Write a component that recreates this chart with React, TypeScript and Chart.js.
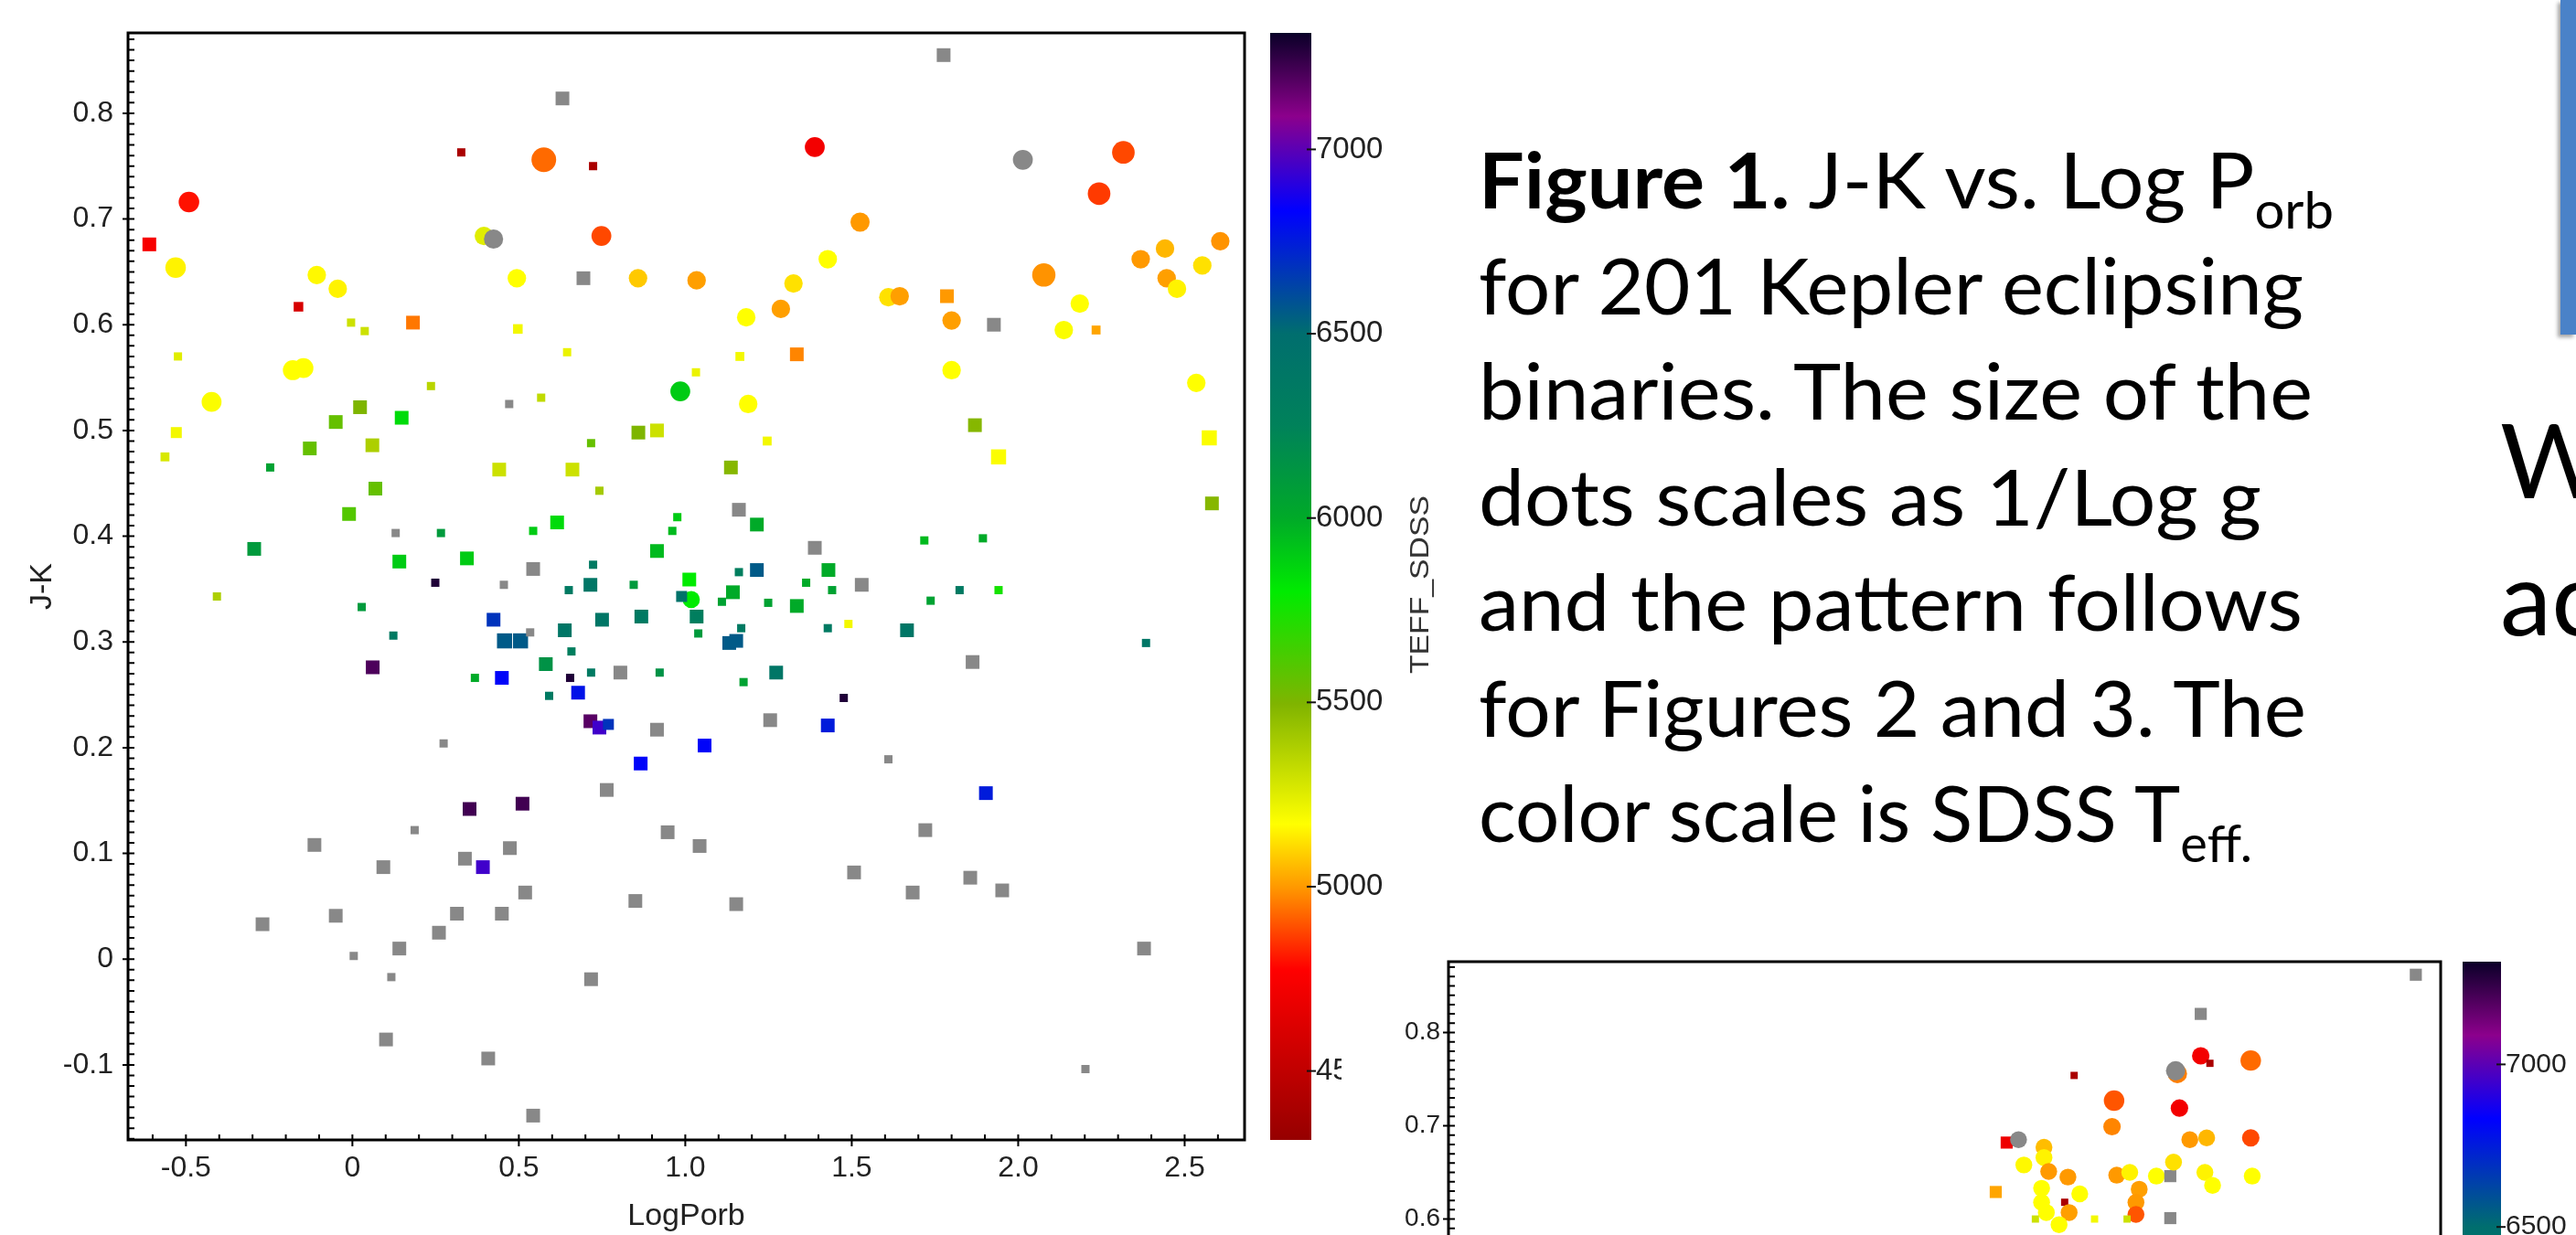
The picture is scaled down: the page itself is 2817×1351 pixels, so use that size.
import React, { useEffect, useRef } from "react";
import { Chart, registerables } from "chart.js";

Chart.register(...registerables);

// ---------------- Figure 1 : J-K vs LogPorb (201 Kepler EBs) ----------------
const fig1LogPorb = [
  0.631, 1.776, 0.327, 0.575, 0.723, 1.389, 2.014, 2.316, 2.243, -0.491,
  -0.610, -0.531, 0.395, 0.424, 0.748, -0.107, -0.044, -0.162, -0.004, 0.037,
  0.182, 0.494, 0.694, 0.858, 1.034, 0.497, -0.524, 0.645, -0.179, -0.147,
  0.236, -0.423, 0.985, 0.471, 0.567, 0.023, -0.050, 0.148, -0.529, -0.563,
  -0.128, 0.060, 0.859, 0.915, 0.717, -0.247, 0.441, 0.661, 0.069, 0.742,
  -0.010, 0.130, 0.266, 0.615, 0.543, 0.976, 0.961, -0.295, 0.141, 0.344,
  0.543, 0.915, 0.723, 0.249, 0.455, 0.715, 0.650, 0.845, 1.012, 1.525,
  1.428, 1.325, 1.287, 1.183, 1.610, 1.644, 1.786, 1.800, 1.927, 2.077,
  2.185, 2.137, 2.234, 2.368, 2.441, 2.446, 2.477, 2.553, 2.607, 1.164,
  1.032, 1.335, 1.800, 2.535, 1.189, 1.246, 1.870, 2.574, 1.941, 1.137,
  2.582, 1.161, 1.215, 1.389, 1.718, 1.894, 1.215, 1.430, 1.363, 1.530,
  1.161, 1.143, 1.018, 1.110, 1.249, 1.335, 1.441, 1.737, 1.824, 1.941,
  1.034, 1.039, 1.168, 1.132, 1.153, 1.428, 1.490, 1.666, 2.384, 1.863,
  1.273, 1.175, 1.476, 1.255, 1.428, 1.058, 1.610, 1.903, 1.721, 1.043,
  1.507, 1.856, 1.683, 1.952, 1.153, 2.378, 2.202, 0.989, -0.407, 0.028,
  0.424, 0.457, 0.505, 0.534, 0.123, 0.638, 0.750, 0.868, 0.658, 0.061,
  0.581, 0.368, 0.449, 0.654, 0.717, 0.805, 0.923, 0.591, 0.678, 0.715,
  0.742, 0.769, 0.915, 0.274, 0.866, 0.764, 0.352, 0.511, 0.947, 0.187,
  -0.114, 0.473, 0.093, 0.338, 0.392, 0.519, 0.850, 0.314, 0.449, -0.050,
  -0.270, 0.260, 0.141, 0.004, 0.117, 0.717, 0.101, 0.408, 0.543,
];
const fig1JK = [
  0.814, 0.855, 0.763, 0.756, 0.750, 0.768, 0.756, 0.763, 0.724, 0.716,
  0.676, 0.654, 0.684, 0.681, 0.684, 0.647, 0.634, 0.617, 0.602, 0.594,
  0.602, 0.644, 0.644, 0.644, 0.642, 0.596, 0.570, 0.574, 0.557, 0.559,
  0.542, 0.527, 0.537, 0.525, 0.531, 0.522, 0.508, 0.512, 0.498, 0.475,
  0.483, 0.486, 0.498, 0.500, 0.488, 0.465, 0.463, 0.463, 0.445, 0.443,
  0.421, 0.403, 0.403, 0.413, 0.405, 0.418, 0.405, 0.388, 0.376, 0.379,
  0.369, 0.386, 0.373, 0.356, 0.354, 0.354, 0.349, 0.354, 0.359, 0.697,
  0.662, 0.639, 0.615, 0.607, 0.626, 0.627, 0.627, 0.604, 0.600, 0.647,
  0.620, 0.595, 0.595, 0.662, 0.672, 0.644, 0.634, 0.656, 0.679, 0.570,
  0.555, 0.572, 0.557, 0.545, 0.525, 0.490, 0.505, 0.493, 0.475, 0.465,
  0.431, 0.425, 0.411, 0.389, 0.396, 0.398, 0.368, 0.368, 0.356, 0.354,
  0.366, 0.347, 0.340, 0.338, 0.337, 0.334, 0.349, 0.339, 0.349, 0.349,
  0.324, 0.308, 0.313, 0.299, 0.301, 0.313, 0.317, 0.311, 0.299, 0.281,
  0.271, 0.262, 0.247, 0.226, 0.221, 0.202, 0.189, 0.157, 0.122, 0.107,
  0.082, 0.077, 0.063, 0.065, 0.052, 0.010, -0.104, 0.343, 0.343, 0.333,
  0.321, 0.301, 0.301, 0.309, 0.306, 0.311, 0.321, 0.324, 0.291, 0.276,
  0.279, 0.266, 0.266, 0.266, 0.271, 0.271, 0.271, 0.249, 0.252, 0.225,
  0.219, 0.222, 0.217, 0.204, 0.185, 0.160, 0.142, 0.147, 0.120, 0.122,
  0.108, 0.105, 0.087, 0.095, 0.087, 0.063, 0.055, 0.043, 0.043, 0.041,
  0.033, 0.025, 0.010, 0.003, -0.017, -0.019, -0.076, -0.094, -0.148,
];
// SDSS Teff (null = no Teff, drawn grey)
const fig1Teff = [
  null, null, 4400, 4930, 4400, 4720, null, 4880, 4860, 4800,
  4740, 5150, 5250, null, 4880, 5160, 5150, 4600, 5300, 5300,
  4950, 5170, null, 5080, 5010, 5200, 5250, 5220, 5170, 5170,
  5350, 5180, 5900, null, 5330, 5500, 5560, 5850, 5200, 5270,
  5560, 5380, 5500, 5300, 5560, 6050, 5300, 5300, 5560, 5400,
  5600, null, 6100, 5850, 5900, 5900, 5950, 6100, 5900, 5900,
  null, 5950, 6350, 7280, null, 6400, 6350, 6100, 5800, 5000,
  5170, 5120, 5010, 5170, 5120, 5010, 5000, 5010, null, 4990,
  5170, 5180, 5020, 5000, 5050, 5010, 5150, 5120, 4990, 5200,
  5220, 4970, 5170, 5170, 5170, 5200, 5480, 5180, 5180, 5480,
  5480, null, 6000, null, 5950, 6000, 6560, 6000, 6000, null,
  6300, 6000, 5800, 6050, 6050, 6000, 6050, 6050, 6350, 5750,
  6300, 6100, 6350, 6560, 6560, 6350, 5200, 6400, 6400, null,
  6400, 6050, 7280, null, 6750, 6820, null, 6750, null, null,
  null, null, null, null, null, null, null, 6450, 5380, 6100,
  6680, 6560, 6560, null, 6350, 6400, 6400, 6350, 6300, 7200,
  6150, 6000, 6820, 7280, 6350, null, 6150, 6350, 6780, 7180,
  6950, 6680, null, null, 6820, null, 7220, 7220, null, null,
  null, null, null, null, 6950, null, null, null, null, null,
  null, null, null, null, null, null, null, null, null,
];
// log g (dot size scales as 1/log g)
const fig1LogG = [
  4.3, 4.3, 4.7, 3.5, 4.7, 3.85, 3.85, 3.65, 3.65, 3.8,
  4.3, 3.8, 3.95, 3.9, 3.85, 3.95, 3.95, 4.6, 4.7, 4.7,
  4.3, 3.95, 4.3, 3.95, 3.95, 4.6, 4.7, 4.7, 3.85, 3.85,
  4.7, 3.85, 3.85, 4.7, 4.7, 4.3, 4.3, 4.3, 4.5, 4.65,
  4.3, 4.3, 4.3, 4.3, 4.7, 4.7, 4.3, 4.3, 4.3, 4.7,
  4.3, 4.7, 4.7, 4.3, 4.7, 4.7, 4.7, 4.3, 4.3, 4.3,
  4.3, 4.3, 4.7, 4.7, 4.7, 4.3, 4.7, 4.7, 4.3, 3.9,
  3.95, 3.95, 3.95, 3.95, 3.95, 3.95, 4.3, 3.95, 4.3, 3.6,
  3.95, 3.95, 4.65, 3.95, 3.95, 3.95, 3.95, 3.95, 3.95, 4.65,
  4.7, 4.3, 3.95, 3.95, 3.95, 4.65, 4.3, 4.2, 4.2, 4.3,
  4.3, 4.3, 4.3, 4.3, 4.7, 4.7, 4.3, 4.3, 4.7, 4.3,
  4.7, 4.3, 4.05, 4.7, 4.7, 4.3, 4.7, 4.7, 4.7, 4.7,
  4.3, 4.7, 4.7, 4.3, 4.3, 4.7, 4.7, 4.3, 4.7, 4.3,
  4.3, 4.7, 4.7, 4.3, 4.3, 4.3, 4.7, 4.3, 4.3, 4.3,
  4.3, 4.3, 4.3, 4.3, 4.3, 4.3, 4.7, 4.5, 4.7, 4.7,
  4.3, 4.2, 4.2, 4.7, 4.7, 4.3, 4.3, 4.3, 4.7, 4.3,
  4.3, 4.7, 4.3, 4.7, 4.7, 4.3, 4.7, 4.7, 4.3, 4.3,
  4.3, 4.5, 4.3, 4.7, 4.3, 4.3, 4.3, 4.3, 4.3, 4.7,
  4.3, 4.3, 4.3, 4.3, 4.3, 4.3, 4.3, 4.3, 4.3, 4.3,
  4.3, 4.3, 4.3, 4.7, 4.7, 4.3, 4.3, 4.3, 4.3,
];

// ---------------- Figure 2 (only its top part is visible) ----------------
const fig2X = [
  2.596, 1.869, 1.869, 1.900, 2.038, 1.790, 1.784, 1.441, 1.576, 1.797,
  1.569, 1.213, 1.253, 1.832, 1.889, 2.038, 1.339, 1.271, 1.339, 1.355,
  1.420, 1.585, 1.629, 1.719, 1.766, 1.777, 1.883, 1.909, 2.043, 1.331,
  1.460, 1.661, 1.650, 1.650, 1.176, 1.331, 1.409, 1.347, 1.424, 1.390,
  1.310, 1.510, 1.620, 1.766,
];
const fig2JK = [
  0.862, 0.820, 0.775, 0.767, 0.770, 0.756, 0.759, 0.754, 0.727, 0.719,
  0.699, 0.682, 0.685, 0.685, 0.687, 0.687, 0.677, 0.658, 0.666, 0.651,
  0.645, 0.647, 0.650, 0.646, 0.646, 0.661, 0.650, 0.636, 0.646, 0.633,
  0.627, 0.632, 0.618, 0.605, 0.629, 0.618, 0.618, 0.607, 0.607, 0.594,
  0.600, 0.600, 0.600, 0.601,
];
const fig2Teff = [
  null, null, 4720, 4400, 4930, 4960, null, 4400, 4900, 4720,
  4970, 4700, null, 5000, 5050, 4880, 5060, 5160, 5150, 5000,
  5000, 5000, 5150, 5170, null, 5120, 5150, 5170, 5170, 5170,
  5170, 5010, 5000, 4900, 5020, 5170, 4400, 5170, 5010, 5170,
  5300, 5200, 5300, null,
];
const fig2LogG = [
  4.3, 4.3, 3.85, 4.7, 3.6, 3.7, 3.7, 4.7, 3.6, 3.85,
  3.85, 4.3, 3.9, 3.9, 3.9, 3.85, 3.9, 3.9, 3.9, 3.9,
  3.9, 3.9, 3.9, 3.9, 4.3, 3.9, 3.9, 3.9, 3.9, 3.9,
  3.9, 3.9, 3.9, 3.9, 4.3, 3.9, 4.7, 3.9, 3.9, 3.9,
  4.7, 4.7, 4.7, 4.3,
];

// ---------------- axes / colour scale ----------------
const xRange = [-0.674, 2.68];
const yRange = [-0.171, 0.876];
const teffRange = [4313, 7316];
const colorbarTicks = [4500, 5000, 5500, 6000, 6500, 7000];
const teffStops = [4313, 4775, 4995, 5170, 5495, 5800, 6000, 6250, 6500, 6833, 7090, 7316];
const rgbStops = [
  [150, 0, 0], [255, 0, 0], [255, 150, 0], [255, 255, 0], [128, 180, 0], [0, 235, 0],
  [0, 170, 40], [0, 130, 90], [0, 110, 110], [0, 0, 255], [140, 0, 140], [10, 0, 40],
];

const rgb = (c: number[]) => `rgb(${c[0]},${c[1]},${c[2]})`;

function teffColor(t: number | null): string {
  if (t === null || t === undefined) return "#888888";
  const v = Math.min(Math.max(t, teffStops[0]), teffStops[teffStops.length - 1]);
  for (let i = 0; i < teffStops.length - 1; i++) {
    if (v <= teffStops[i + 1]) {
      const f = (v - teffStops[i]) / (teffStops[i + 1] - teffStops[i]);
      const a = rgbStops[i], b = rgbStops[i + 1];
      return rgb([0, 1, 2].map((k) => Math.round(a[k] + (b[k] - a[k]) * f)));
    }
  }
  return rgb(rgbStops[rgbStops.length - 1]);
}

// visual diameter of a dot, growing as log g decreases
const dotSize = (g: number) => 9 + (4.7 - g) * 15;
const fmt = (v: any) => (Math.abs(Number(v)) < 1e-9 ? "0" : Number(v).toFixed(1));
const FONT = '"Liberation Sans", Arial, sans-serif';

function decorPlugin(cb: { gap: number; width: number; fontSize: number }) {
  return {
    id: "decor",
    beforeDraw(chart: any) {
      const { ctx, width, height } = chart;
      ctx.save();
      ctx.fillStyle = "#fff";
      ctx.fillRect(0, 0, width, height);
      ctx.restore();
    },
    afterDraw(chart: any) {
      const { ctx, chartArea: a, scales } = chart;
      const x = scales.x, y = scales.y;
      ctx.save();
      // colour bar
      const cbL = a.right + cb.gap;
      const cbR = cbL + cb.width;
      const grad = ctx.createLinearGradient(0, a.bottom, 0, a.top);
      teffStops.forEach((t, i) =>
        grad.addColorStop((t - teffRange[0]) / (teffRange[1] - teffRange[0]), rgb(rgbStops[i]))
      );
      ctx.fillStyle = grad;
      ctx.fillRect(cbL, a.top, cb.width, a.bottom - a.top);
      ctx.strokeStyle = "#111";
      ctx.lineWidth = 2;
      ctx.font = `${cb.fontSize}px ${FONT}`;
      ctx.fillStyle = "#222";
      ctx.textAlign = "left";
      ctx.textBaseline = "middle";
      colorbarTicks.forEach((t) => {
        const py = a.bottom - ((t - teffRange[0]) / (teffRange[1] - teffRange[0])) * (a.bottom - a.top);
        ctx.beginPath();
        ctx.moveTo(cbR - 5, py);
        ctx.lineTo(cbR + 5, py);
        ctx.stroke();
        ctx.fillText(String(t), cbR + 5, py);
      });
      // frame
      ctx.strokeStyle = "#000";
      ctx.lineWidth = 3;
      ctx.strokeRect(a.left, a.top, a.right - a.left, a.bottom - a.top);
      // ticks
      ctx.lineWidth = 2;
      ctx.beginPath();
      for (let k = Math.ceil(xRange[0] * 10); k <= Math.floor(xRange[1] * 10); k++) {
        const px = x.getPixelForValue(k / 10);
        ctx.moveTo(px, a.bottom - 6);
        ctx.lineTo(px, k % 5 === 0 ? a.bottom + 7 : a.bottom);
      }
      for (let k = Math.ceil(yRange[0] * 100); k <= Math.floor(yRange[1] * 100); k++) {
        const py = y.getPixelForValue(k / 100);
        ctx.moveTo(k % 10 === 0 ? a.left - 6 : a.left, py);
        ctx.lineTo(a.left + 7, py);
      }
      ctx.stroke();
      ctx.restore();
    },
  };
}

type PanelProps = {
  left: number; top: number; width: number; height: number;
  area: { left: number; top: number; right: number; bottom: number };
  xs: number[]; ys: number[]; ts: (number | null)[]; gs: number[];
  markerScale: number; tickFont: number; yPad: number; showTitles: boolean;
  cb: { gap: number; width: number; fontSize: number };
};

function ScatterPanel(p: PanelProps) {
  const ref = useRef<HTMLCanvasElement>(null);
  useEffect(() => {
    const sizes = p.gs.map((g) => dotSize(g) * p.markerScale);
    const chart = new Chart(ref.current as HTMLCanvasElement, {
      type: "scatter",
      data: {
        datasets: [
          {
            data: p.xs.map((x, i) => ({ x, y: p.ys[i] })),
            backgroundColor: p.ts.map(teffColor),
            borderWidth: 0,
            pointBorderWidth: 0,
            pointStyle: sizes.map((s) => (s < 17 * p.markerScale ? "rect" : "circle")),
            pointRadius: sizes.map((s) => (s < 17 * p.markerScale ? s / Math.SQRT2 : s / 2)),
          } as any,
        ],
      },
      options: {
        responsive: false,
        animation: false,
        devicePixelRatio: 1,
        events: [],
        layout: { padding: { left: 0, top: p.area.top, right: p.width - p.area.right, bottom: 0 } },
        plugins: { legend: { display: false }, tooltip: { enabled: false } },
        scales: {
          x: {
            type: "linear",
            min: xRange[0],
            max: xRange[1],
            grid: { display: false, drawTicks: false },
            border: { display: false },
            ticks: {
              stepSize: 0.5, includeBounds: false, autoSkip: false, maxRotation: 0,
              padding: 12, color: "#222", font: { family: FONT, size: p.tickFont }, callback: fmt,
            },
            title: {
              display: p.showTitles, text: "LogPorb", color: "#222",
              font: { family: FONT, size: 34 }, padding: { top: 0, bottom: 0 },
            },
            afterFit: (s: any) => {
              s.height = p.height - p.area.bottom;
              s.paddingLeft = 0; s.paddingRight = 0;
            },
          },
          y: {
            type: "linear",
            min: yRange[0],
            max: yRange[1],
            grid: { display: false, drawTicks: false },
            border: { display: false },
            ticks: {
              stepSize: 0.1, includeBounds: false, autoSkip: false,
              padding: p.yPad, color: "#222", font: { family: FONT, size: p.tickFont }, callback: fmt,
            },
            title: {
              display: p.showTitles, text: "J-K", color: "#222",
              font: { family: FONT, size: 34 }, padding: { top: 26, bottom: 0 },
            },
            afterFit: (s: any) => {
              s.width = p.area.left;
              s.paddingTop = 0; s.paddingBottom = 0;
            },
          },
        } as any,
      },
      plugins: [decorPlugin(p.cb)],
    } as any);
    return () => chart.destroy();
  }, []);
  return (
    <canvas
      ref={ref}
      width={p.width}
      height={p.height}
      style={{ position: "absolute", left: p.left, top: p.top, width: p.width, height: p.height }}
    />
  );
}

export default function App() {
  const cap = { fontFamily: "Lato, 'Open Sans', sans-serif", fill: "#000" };
  return (
    <div
      style={{
        position: "fixed", left: 0, top: 0, width: 2817, height: 1351,
        overflow: "hidden", background: "#fff",
      }}
    >
      <ScatterPanel
        left={0} top={0} width={1620} height={1351}
        area={{ left: 140, top: 36, right: 1361, bottom: 1247 }}
        xs={fig1LogPorb} ys={fig1JK} ts={fig1Teff} gs={fig1LogG}
        markerScale={1} tickFont={32} yPad={16} showTitles={true}
        cb={{ gap: 28, width: 45, fontSize: 33 }}
      />
      <svg
        width={2817} height={1351}
        style={{ position: "absolute", left: 0, top: 0, pointerEvents: "none" }}
      >
        <text
          x={1562} y={737} fontSize={30} fill="#333"
          fontFamily='"Liberation Sans", Arial, sans-serif'
          transform="rotate(-90 1562 737)" textLength={195} lengthAdjust="spacingAndGlyphs"
        >
          TEFF_SDSS
        </text>
        <g {...cap} fontSize={85} style={{ whiteSpace: "pre" }}>
          <text x={1617} y={228} textLength={935} lengthAdjust="spacingAndGlyphs">
            <tspan fontWeight={700}>Figure 1.</tspan>
            <tspan>{"  J-K vs. Log P"}</tspan>
            <tspan fontSize={56} dy={22}>orb</tspan>
          </text>
          <text x={1617} y={343.5} textLength={902} lengthAdjust="spacingAndGlyphs">for 201 Kepler eclipsing</text>
          <text x={1617} y={459} textLength={912} lengthAdjust="spacingAndGlyphs">binaries. The size of the</text>
          <text x={1617} y={574.5} textLength={856} lengthAdjust="spacingAndGlyphs">{"dots scales as  1/Log g"}</text>
          <text x={1617} y={690} textLength={901} lengthAdjust="spacingAndGlyphs">and the pattern follows</text>
          <text x={1617} y={805.5} textLength={905} lengthAdjust="spacingAndGlyphs">for Figures 2 and 3. The</text>
          <text x={1617} y={921} textLength={846} lengthAdjust="spacingAndGlyphs">
            <tspan>color scale is SDSS T</tspan>
            <tspan fontSize={56} dy={22}>eff.</tspan>
          </text>
          <text x={2734} y={545} fontSize={113}>W</text>
          <text x={2734} y={695} fontSize={113}>ac</text>
        </g>
      </svg>
      <div
        style={{
          position: "absolute", left: 2800, top: 0, width: 17, height: 366,
          background: "#4a82c8", boxShadow: "-3px 3px 4px rgba(0,0,0,0.35)",
        }}
      />
      <ScatterPanel
        left={1467} top={1030} width={1350} height={1200}
        area={{ left: 117, top: 22, right: 1202, bottom: 1090 }}
        xs={fig2X} ys={fig2JK} ts={fig2Teff} gs={fig2LogG}
        markerScale={0.88} tickFont={28} yPad={9} showTitles={false}
        cb={{ gap: 24, width: 42, fontSize: 30 }}
      />
    </div>
  );
}
